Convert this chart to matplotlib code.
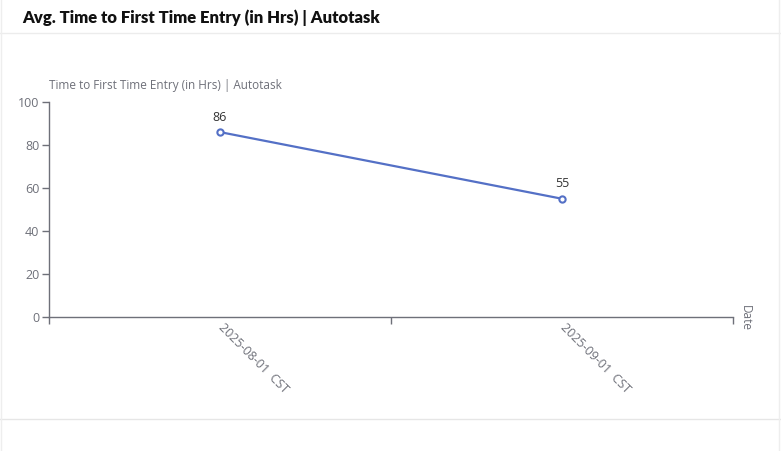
import matplotlib
matplotlib.use("Agg")
import matplotlib.pyplot as plt
from matplotlib.lines import Line2D

plt.rcParams['font.family'] = ['Open Sans', 'DejaVu Sans']

# data
dates = ['2025-08-01  CST', '2025-09-01  CST']
hours = [86, 55]
y_ticks = [0, 20, 40, 60, 80, 100]

title = 'Avg. Time to First Time Entry (in Hrs) | Autotask'
y_name = 'Time to First Time Entry (in Hrs) | Autotask'
x_name = 'Date'

axis_grey = '#6e7079'
line_blue = '#5470c6'

W, H = 781, 451
fig = plt.figure(figsize=(W / 100, H / 100), dpi=100)

# panel borders
fig.add_artist(Line2D([0, 1], [1 - 33 / H, 1 - 33 / H], color='#ececec', lw=1))
fig.add_artist(Line2D([0, 1], [1 - 419 / H, 1 - 419 / H], color='#e6e6e6', lw=1))
fig.add_artist(Line2D([1 / W, 1 / W], [0, 1], color='#eeeeee', lw=1))
fig.add_artist(Line2D([779 / W, 779 / W], [0, 1], color='#eeeeee', lw=1))

fig.text(22 / W, 1 - 18 / H, title, fontsize=12, fontweight='heavy',
         family=['Lato', 'DejaVu Sans'], color='#111111', va='center', ha='left')

left, right, top, bottom = 49, 733, 102, 317
ax = fig.add_axes([left / W, 1 - bottom / H, (right - left) / W, (bottom - top) / H])

xs = [i + 0.5 for i in range(len(dates))]
ax.plot(xs, hours, color=line_blue, lw=1.6, marker='o', markersize=4.5,
        markerfacecolor='white', markeredgecolor=line_blue, markeredgewidth=1.5,
        clip_on=False, zorder=3)
for x, v in zip(xs, hours):
    ax.annotate(str(v), (x, v), xytext=(0, 6), textcoords='offset points',
                ha='center', va='bottom', fontsize=9, color='#333333')

ax.set_xlim(0, len(dates))
ax.set_ylim(0, 100)
ax.set_yticks(y_ticks)
ax.set_yticklabels([str(t) for t in y_ticks])
ax.set_xticks(range(len(dates) + 1))
ax.set_xticklabels([])
ax.set_xticks(xs, minor=True)
ax.set_xticklabels(dates, minor=True, rotation=-45, ha='left', va='center',
                   rotation_mode='anchor')
ax.tick_params(axis='x', which='minor', length=0, pad=6, labelsize=9,
               labelcolor=axis_grey)
ax.tick_params(axis='x', which='major', length=5, color=axis_grey, width=1)
ax.tick_params(axis='y', length=5, color=axis_grey, width=1, labelsize=9,
               labelcolor=axis_grey, pad=2)

for s in ['top', 'right']:
    ax.spines[s].set_visible(False)
for s in ['left', 'bottom']:
    ax.spines[s].set_color(axis_grey)
    ax.spines[s].set_linewidth(1)

fig.text(left / W, 1 - 86 / H, y_name, fontsize=8.5, color=axis_grey,
         ha='left', va='center')
fig.text(745 / W, 1 - 305 / H, x_name, fontsize=8.5, color=axis_grey,
         rotation=-90, ha='center', va='top')

fig.savefig('out.png', dpi=100, facecolor='white')
